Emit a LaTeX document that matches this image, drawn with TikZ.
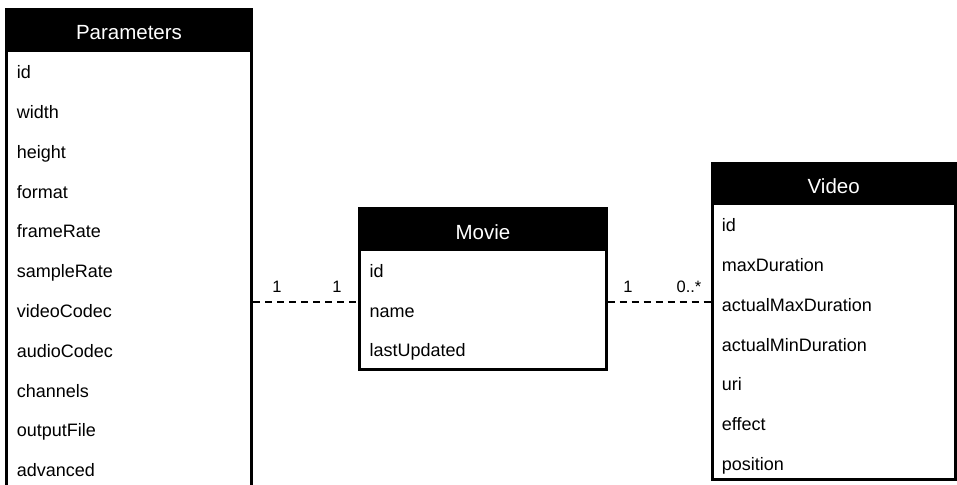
\documentclass[tikz,border=0pt]{standalone}
\usepackage{fontspec}
\setmainfont{Liberation Sans}
\begin{document}
\begin{tikzpicture}[x=1pt,y=-1pt,
  boxframe/.style={draw=black,line width=3pt,fill=white},
  headfill/.style={fill=black},
  title/.style={font=\fontsize{20.5}{20.5}\selectfont,text=white,anchor=base,inner sep=0pt},
  field/.style={font=\fontsize{18}{18}\selectfont,anchor=base west,inner sep=0pt},
  mult/.style={font=\fontsize{16.5}{16.5}\selectfont,anchor=base,inner sep=0pt},
  link/.style={draw=black,line width=1.3pt,dash pattern=on 7pt off 5pt}]
\useasboundingbox (0,0) rectangle (957,484);
\clip (0,0) rectangle (957,484);
% Parameters
\draw[boxframe] (6.5,9.5) rectangle (251.5,520);
\fill[headfill] (5,8) rectangle (253,52);
\node[title] (ptitle) at (129,39.3) {Parameters};
\foreach \t [count=\i from 0] in {id,width,height,format,frameRate,sampleRate,videoCodec,audioCodec,channels,outputFile,advanced}
  \node[field] (p\i) at (16.7,78.7+39.8*\i) {\t};
\coordinate (pr) at (253,302);
% Movie
\draw[boxframe] (359.8,208.8) rectangle (606.2,369.2);
\fill[headfill] (358.3,207.3) rectangle (607.7,251);
\node[title] (mtitle) at (483,239.3) {Movie};
\foreach \t [count=\i from 0] in {id,name,lastUpdated}
  \node[field] (m\i) at (369.3,277.3+39.7*\i) {\t};
\coordinate (ml) at (358.3,302);
\coordinate (mr) at (607.7,302);
% Video
\draw[boxframe] (712.2,163.2) rectangle (955.3,479.5);
\fill[headfill] (710.7,161.7) rectangle (956.8,204.5);
\node[title] (vtitle) at (833.7,193.3) {Video};
\foreach \t [count=\i from 0] in {id,maxDuration,actualMaxDuration,actualMinDuration,uri,effect,position}
  \node[field] (v\i) at (721.7,231.7+39.8*\i) {\t};
\coordinate (vl) at (710.7,302);
% connectors
\draw[link] (pr) -- (ml);
\draw[link] (mr) -- (vl);
\node[mult] (l1) at (277,292) {1};
\node[mult] (l2) at (337,292) {1};
\node[mult] (l3) at (628,292) {1};
\node[mult] (l4) at (689,292) {0..*};
\end{tikzpicture}
\end{document}
